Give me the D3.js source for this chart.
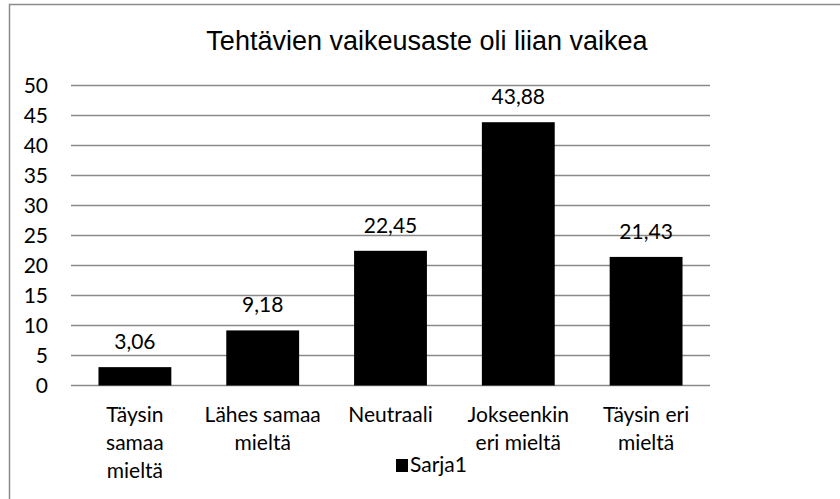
<!DOCTYPE html>
<html>
<head>
<meta charset="UTF-8">
<title>Tehtävien vaikeusaste oli liian vaikea</title>
<script src="https://d3js.org/d3.v7.min.js"></script>
<style>
  body { margin: 0; padding: 0; background: #fff; }
  .lbl { font-family: Lato, "Open Sans", sans-serif; font-size: 21px; fill: #000; }
</style>
</head>
<body>
<div id="chart"></div>
<script>
// Data
const categories = [["Täysin", "samaa", "mieltä"], ["Lähes samaa", "mieltä"], ["Neutraali"], ["Jokseenkin", "eri mieltä"], ["Täysin eri", "mieltä"]];
const values = [3.06, 9.18, 22.45, 43.88, 21.43];
const yTicks = [0, 5, 10, 15, 20, 25, 30, 35, 40, 45, 50];
const seriesName = "Sarja1";
const title = "Tehtävien vaikeusaste oli liian vaikea";

const width = 840, height = 499;
const svg = d3.select("#chart").append("svg")
  .attr("width", width).attr("height", height);

// chart area border
svg.append("rect")
  .attr("x", 9.5).attr("y", 4.5)
  .attr("width", 840).attr("height", 500)
  .attr("fill", "#fff").attr("stroke", "#8c8c8c").attr("stroke-width", 1.5);

const margin = { left: 71, right: 130, top: 85.5, bottom: 113.5 };
const x = d3.scaleBand()
  .domain(d3.range(categories.length))
  .range([margin.left, width - margin.right])
  .paddingInner(0.43).paddingOuter(0.215);
const y = d3.scaleLinear().domain([0, 50]).range([height - margin.bottom, margin.top]);

// gridlines
svg.append("g").selectAll("line")
  .data(yTicks)
  .enter().append("line")
  .attr("x1", margin.left).attr("x2", width - margin.right)
  .attr("y1", d => y(d)).attr("y2", d => y(d))
  .attr("stroke", "#8a8a8a").attr("stroke-width", 1.5);

// y labels
svg.append("g").selectAll("text")
  .data(yTicks)
  .enter().append("text")
  .attr("class", "lbl")
  .attr("x", 48).attr("y", d => y(d))
  .attr("dy", "0.35em")
  .attr("text-anchor", "end")
  .text(d => d);

// bars
svg.append("g").selectAll("rect")
  .data(values)
  .enter().append("rect")
  .attr("x", (d, i) => x(i))
  .attr("width", x.bandwidth())
  .attr("y", d => y(d))
  .attr("height", d => y(0) - y(d))
  .attr("fill", "#000");

// value labels
svg.append("g").selectAll("text")
  .data(values)
  .enter().append("text")
  .attr("class", "lbl")
  .attr("x", (d, i) => x(i) + x.bandwidth() / 2)
  .attr("y", d => y(d) - 18)
  .attr("text-anchor", "middle")
  .text(d => d.toFixed(2).replace(".", ","));

// category labels
const cat = svg.append("g").selectAll("text")
  .data(categories)
  .enter().append("text")
  .attr("class", "lbl")
  .attr("text-anchor", "middle")
  .attr("x", (d, i) => x(i) + x.bandwidth() / 2)
  .attr("y", 422);
cat.selectAll("tspan")
  .data(d => d)
  .enter().append("tspan")
  .attr("x", function() { return this.parentNode.getAttribute("x"); })
  .attr("dy", (d, i) => i === 0 ? 0 : 28)
  .text(d => d);

// title
svg.append("text")
  .attr("x", 427).attr("y", 50)
  .attr("text-anchor", "middle")
  .style("font-family", "'Liberation Sans', Arial, sans-serif")
  .style("font-size", "27px")
  .text(title);

// legend
svg.append("rect")
  .attr("x", 396).attr("y", 459)
  .attr("width", 12).attr("height", 13)
  .attr("fill", "#000");
svg.append("text")
  .attr("class", "lbl")
  .attr("x", 410).attr("y", 472)
  .text(seriesName);
</script>
</body>
</html>
